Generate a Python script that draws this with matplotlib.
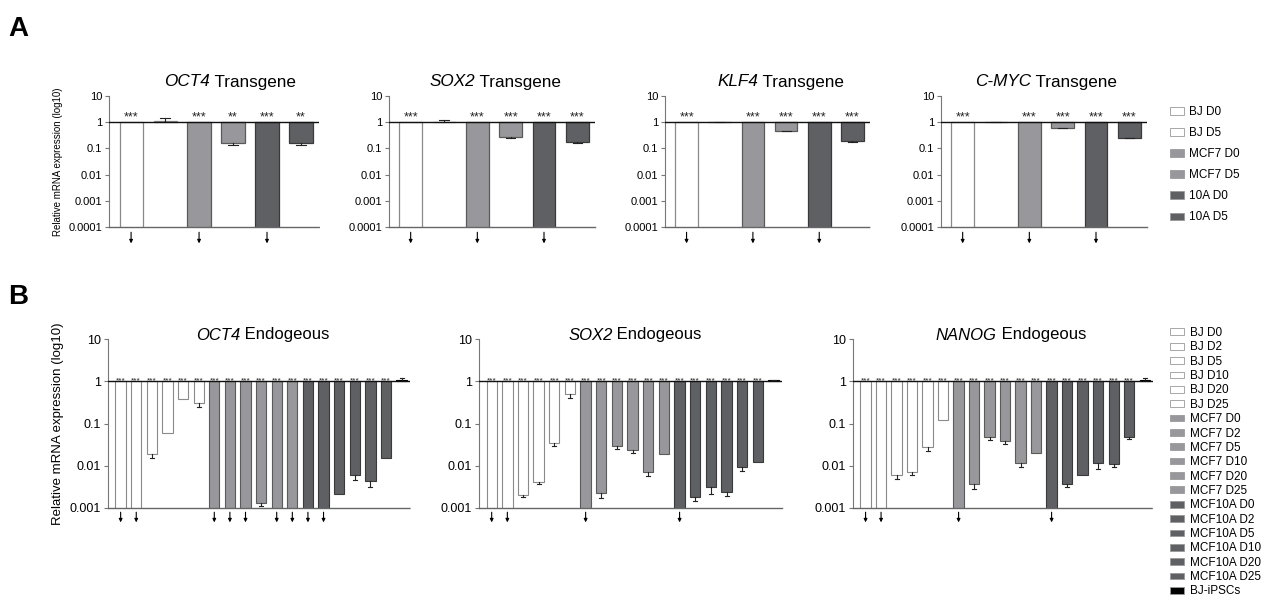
import numpy as np
import matplotlib
matplotlib.use("Agg")
import matplotlib.pyplot as plt
from matplotlib.patches import Patch
from matplotlib.transforms import blended_transform_factory

plt.rcParams['font.family'] = ['Liberation Sans', 'DejaVu Sans']

ND = 1e-6  # below detection limit (drawn with a down arrow)

# ---------------- Panel A data ----------------
a_groups = ["BJ D0", "BJ D5", "MCF7 D0", "MCF7 D5", "10A D0", "10A D5"]
a_genes = ["OCT4", "SOX2", "KLF4", "C-MYC"]
a_oct4 = [ND, 1.07, ND, 0.16, ND, 0.155]
a_sox2 = [ND, 1.05, ND, 0.27, ND, 0.17]
a_klf4 = [ND, 1.01, ND, 0.48, ND, 0.186]
a_cmyc = [ND, 1.02, ND, 0.60, ND, 0.25]
a_oct4_err = [np.nan, 1.4, np.nan, 0.14, np.nan, 0.14]
a_sox2_err = [np.nan, 1.2, np.nan, 0.26, np.nan, 0.165]
a_klf4_err = [np.nan, 1.03, np.nan, 0.45, np.nan, 0.18]
a_cmyc_err = [np.nan, 1.06, np.nan, 0.59, np.nan, 0.245]
a_oct4_sig = ["***", "", "***", "**", "***", "**"]
a_sox2_sig = ["***", "", "***", "***", "***", "***"]
a_klf4_sig = ["***", "", "***", "***", "***", "***"]
a_cmyc_sig = ["***", "", "***", "***", "***", "***"]

# ---------------- Panel B data ----------------
b_groups = ["BJ D0", "BJ D2", "BJ D5", "BJ D10", "BJ D20", "BJ D25",
            "MCF7 D0", "MCF7 D2", "MCF7 D5", "MCF7 D10", "MCF7 D20", "MCF7 D25",
            "MCF10A D0", "MCF10A D2", "MCF10A D5", "MCF10A D10", "MCF10A D20", "MCF10A D25",
            "BJ-iPSCs"]
b_genes = ["OCT4", "SOX2", "NANOG"]
b_oct4 = [ND, ND, 0.0186, 0.058, 0.38, 0.30,
          ND, ND, ND, 0.0013, ND, ND,
          ND, ND, 0.0022, 0.0059, 0.0044, 0.0154, 1.05]
b_sox2 = [ND, ND, 0.0020, 0.0042, 0.034, 0.49,
          ND, 0.0023, 0.030, 0.024, 0.0071, 0.019,
          ND, 0.0018, 0.0031, 0.0024, 0.0091, 0.0124, 1.05]
b_nanog = [ND, ND, 0.0059, 0.0072, 0.028, 0.124,
           ND, 0.0038, 0.047, 0.039, 0.0114, 0.0195,
           ND, 0.0036, 0.0059, 0.0118, 0.0112, 0.049, 1.05]
b_oct4_err = [np.nan, np.nan, 0.015, np.nan, np.nan, 0.25,
              np.nan, np.nan, np.nan, 0.0011, np.nan, np.nan,
              np.nan, np.nan, np.nan, 0.0046, 0.0032, np.nan, 1.22]
b_sox2_err = [np.nan, np.nan, 0.0018, 0.0038, 0.029, 0.41,
              np.nan, 0.0017, 0.025, 0.020, 0.0056, np.nan,
              np.nan, 0.0015, 0.0022, 0.0019, 0.0077, np.nan, 1.1]
b_nanog_err = [np.nan, np.nan, 0.0048, 0.0059, 0.022, np.nan,
               np.nan, 0.0028, 0.040, 0.032, 0.0091, np.nan,
               np.nan, 0.0031, np.nan, 0.0086, 0.0094, 0.042, 1.2]
b_sig = ["***"] * 18 + [""]

WHITE = ("#ffffff", "#8a8a8a")
MID = ("#98989c", "#5a5a5a")
DARK = ("#5f6064", "#3a3a3a")
BLACK = ("#000000", "#000000")
a_colors = [WHITE, WHITE, MID, MID, DARK, DARK]
b_colors = [WHITE] * 6 + [MID] * 6 + [DARK] * 6 + [BLACK]

W, H = 1267, 599
fig = plt.figure(figsize=(W / 100, H / 100), dpi=100)
renderer = fig.canvas.get_renderer()


def ax_at(x0, x1, ytop, ybot):
    return fig.add_axes([x0 / W, 1 - ybot / H, (x1 - x0) / W, (ybot - ytop) / H])


def title2(cx, cy, italic_part, rest, fs):
    t1 = fig.text(0, 1 - cy / H, italic_part, fontsize=fs, fontstyle='italic',
                  va='center', ha='left')
    t2 = fig.text(0, 1 - cy / H, rest, fontsize=fs, va='center', ha='left')
    w1 = t1.get_window_extent(renderer).width
    w2 = t2.get_window_extent(renderer).width
    x0 = cx - (w1 + w2) / 2
    t1.set_x(x0 / W)
    t2.set_x((x0 + w1) / W)


def draw(ax, vals, errs, sigs, colors, ymin, width, lpad, rpad,
         star_fs, star_off, arrow_y, lw):
    x = np.arange(len(vals))
    vals = np.asarray(vals, float)
    faces = [c[0] for c in colors]
    edges = [c[1] for c in colors]
    ax.set_yscale('log')
    ax.set_ylim(ymin, 10)
    ax.set_xlim(-lpad, len(vals) - 1 + rpad)
    shown = np.maximum(vals, ymin * 0.5)
    ax.bar(x, shown - 1, bottom=1, width=width, color=faces, edgecolor=edges,
           linewidth=lw, zorder=2)
    for xi, v, e in zip(x, vals, errs):
        if np.isnan(e) or v < ymin:
            continue
        ax.plot([xi, xi], [v, e], color='#222222', lw=0.8, zorder=3)
        ax.plot([xi - width * 0.2, xi + width * 0.2], [e, e], color='#222222', lw=0.8, zorder=3)
    ax.axhline(1, color='#111111', lw=1.0, zorder=4)
    tr = blended_transform_factory(ax.transData, ax.transAxes)
    for xi, v in zip(x, vals):
        if v < ymin:
            ax.annotate('', xy=(xi, arrow_y[1]), xytext=(xi, arrow_y[0]),
                        xycoords=tr, textcoords=tr, annotation_clip=False,
                        arrowprops=dict(arrowstyle='-|>', lw=0.8, color='black',
                                        mutation_scale=5, shrinkA=0, shrinkB=0))
    for xi, s in zip(x, sigs):
        if s:
            ax.annotate(s, (xi, 1), xytext=(0, star_off), textcoords='offset points',
                        ha='center', va='baseline', fontsize=star_fs, color='#222222')
    for s in ['top', 'right']:
        ax.spines[s].set_visible(False)
    ax.spines['left'].set_color('#777777')
    ax.spines['left'].set_linewidth(0.8)
    ax.spines['bottom'].set_color('#666666')
    ax.spines['bottom'].set_linewidth(1.0)
    ax.spines['bottom'].set_linestyle((0, (1, 1)))
    ax.set_xticks([])
    ax.minorticks_off()
    ax.tick_params(axis='y', which='major', length=3, width=0.8, color='#777777', pad=2)


# Panel A
a_pos = [(109, 319), (389, 595), (665, 870), (941, 1147)]
a_title_cx = [230, 495, 781, 1046]
a_vals = [a_oct4, a_sox2, a_klf4, a_cmyc]
a_errs = [a_oct4_err, a_sox2_err, a_klf4_err, a_cmyc_err]
a_sigs = [a_oct4_sig, a_sox2_sig, a_klf4_sig, a_cmyc_sig]
a_ticks = [10, 1, 0.1, 0.01, 0.001, 0.0001]
a_labels = ["10", "1", "0.1", "0.01", "0.001", "0.0001"]
for i, (p, g) in enumerate(zip(a_pos, a_genes)):
    ax = ax_at(p[0], p[1], 96, 227)
    draw(ax, a_vals[i], a_errs[i], a_sigs[i], a_colors, 1e-4, 0.68, 0.65, 0.53,
         9, 1, (-0.04, -0.125), 0.9)
    ax.set_yticks(a_ticks)
    ax.set_yticklabels(a_labels, fontsize=8)
    if i == 0:
        ax.set_ylabel("Relative mRNA expression (log10)", fontsize=7, labelpad=4)
    title2(a_title_cx[i], 82, g, " Transgene", 12.3)

# Panel B
b_pos = [(108, 410), (479, 782), (853, 1153)]
b_title_cx = [263, 635, 1011]
b_vals = [b_oct4, b_sox2, b_nanog]
b_errs = [b_oct4_err, b_sox2_err, b_nanog_err]
b_ticks = [10, 1, 0.1, 0.01, 0.001]
b_labels = ["10", "1", "0.1", "0.01", "0.001"]
for i, (p, g) in enumerate(zip(b_pos, b_genes)):
    ax = ax_at(p[0], p[1], 339, 508)
    draw(ax, b_vals[i], b_errs[i], b_sig, b_colors, 1e-3, 0.66, 0.81, 0.54,
         6, -0.5, (-0.025, -0.085), 0.8)
    ax.set_yticks(b_ticks)
    ax.set_yticklabels(b_labels, fontsize=9)
    if i == 0:
        ax.set_ylabel("Relative mRNA expression (log10)", fontsize=9.5, labelpad=4)
    title2(b_title_cx[i], 335, g, " Endogeous", 12)

# Legends
a_handles = [Patch(facecolor=c[0], edgecolor='#999999', lw=0.6) for c in a_colors]
fig.legend(a_handles, a_groups, loc='upper left', bbox_to_anchor=(1170 / W, 1 - 106 / H),
           frameon=False, fontsize=8.5, handlelength=1.2, handleheight=0.6,
           labelspacing=0.77, handletextpad=0.45, borderaxespad=0, borderpad=0)
b_handles = [Patch(facecolor=c[0], edgecolor='#999999', lw=0.6) for c in b_colors]
fig.legend(b_handles, b_groups, loc='upper left', bbox_to_anchor=(1170 / W, 1 - 327 / H),
           frameon=False, fontsize=8.5, handlelength=1.2, handleheight=0.5,
           labelspacing=0.2, handletextpad=0.5, borderaxespad=0, borderpad=0)

fig.text(8 / W, 1 - 36 / H, "A", fontsize=20, fontweight='bold')
fig.text(8 / W, 1 - 304 / H, "B", fontsize=20, fontweight='bold')

fig.savefig("out.png", dpi=100)
